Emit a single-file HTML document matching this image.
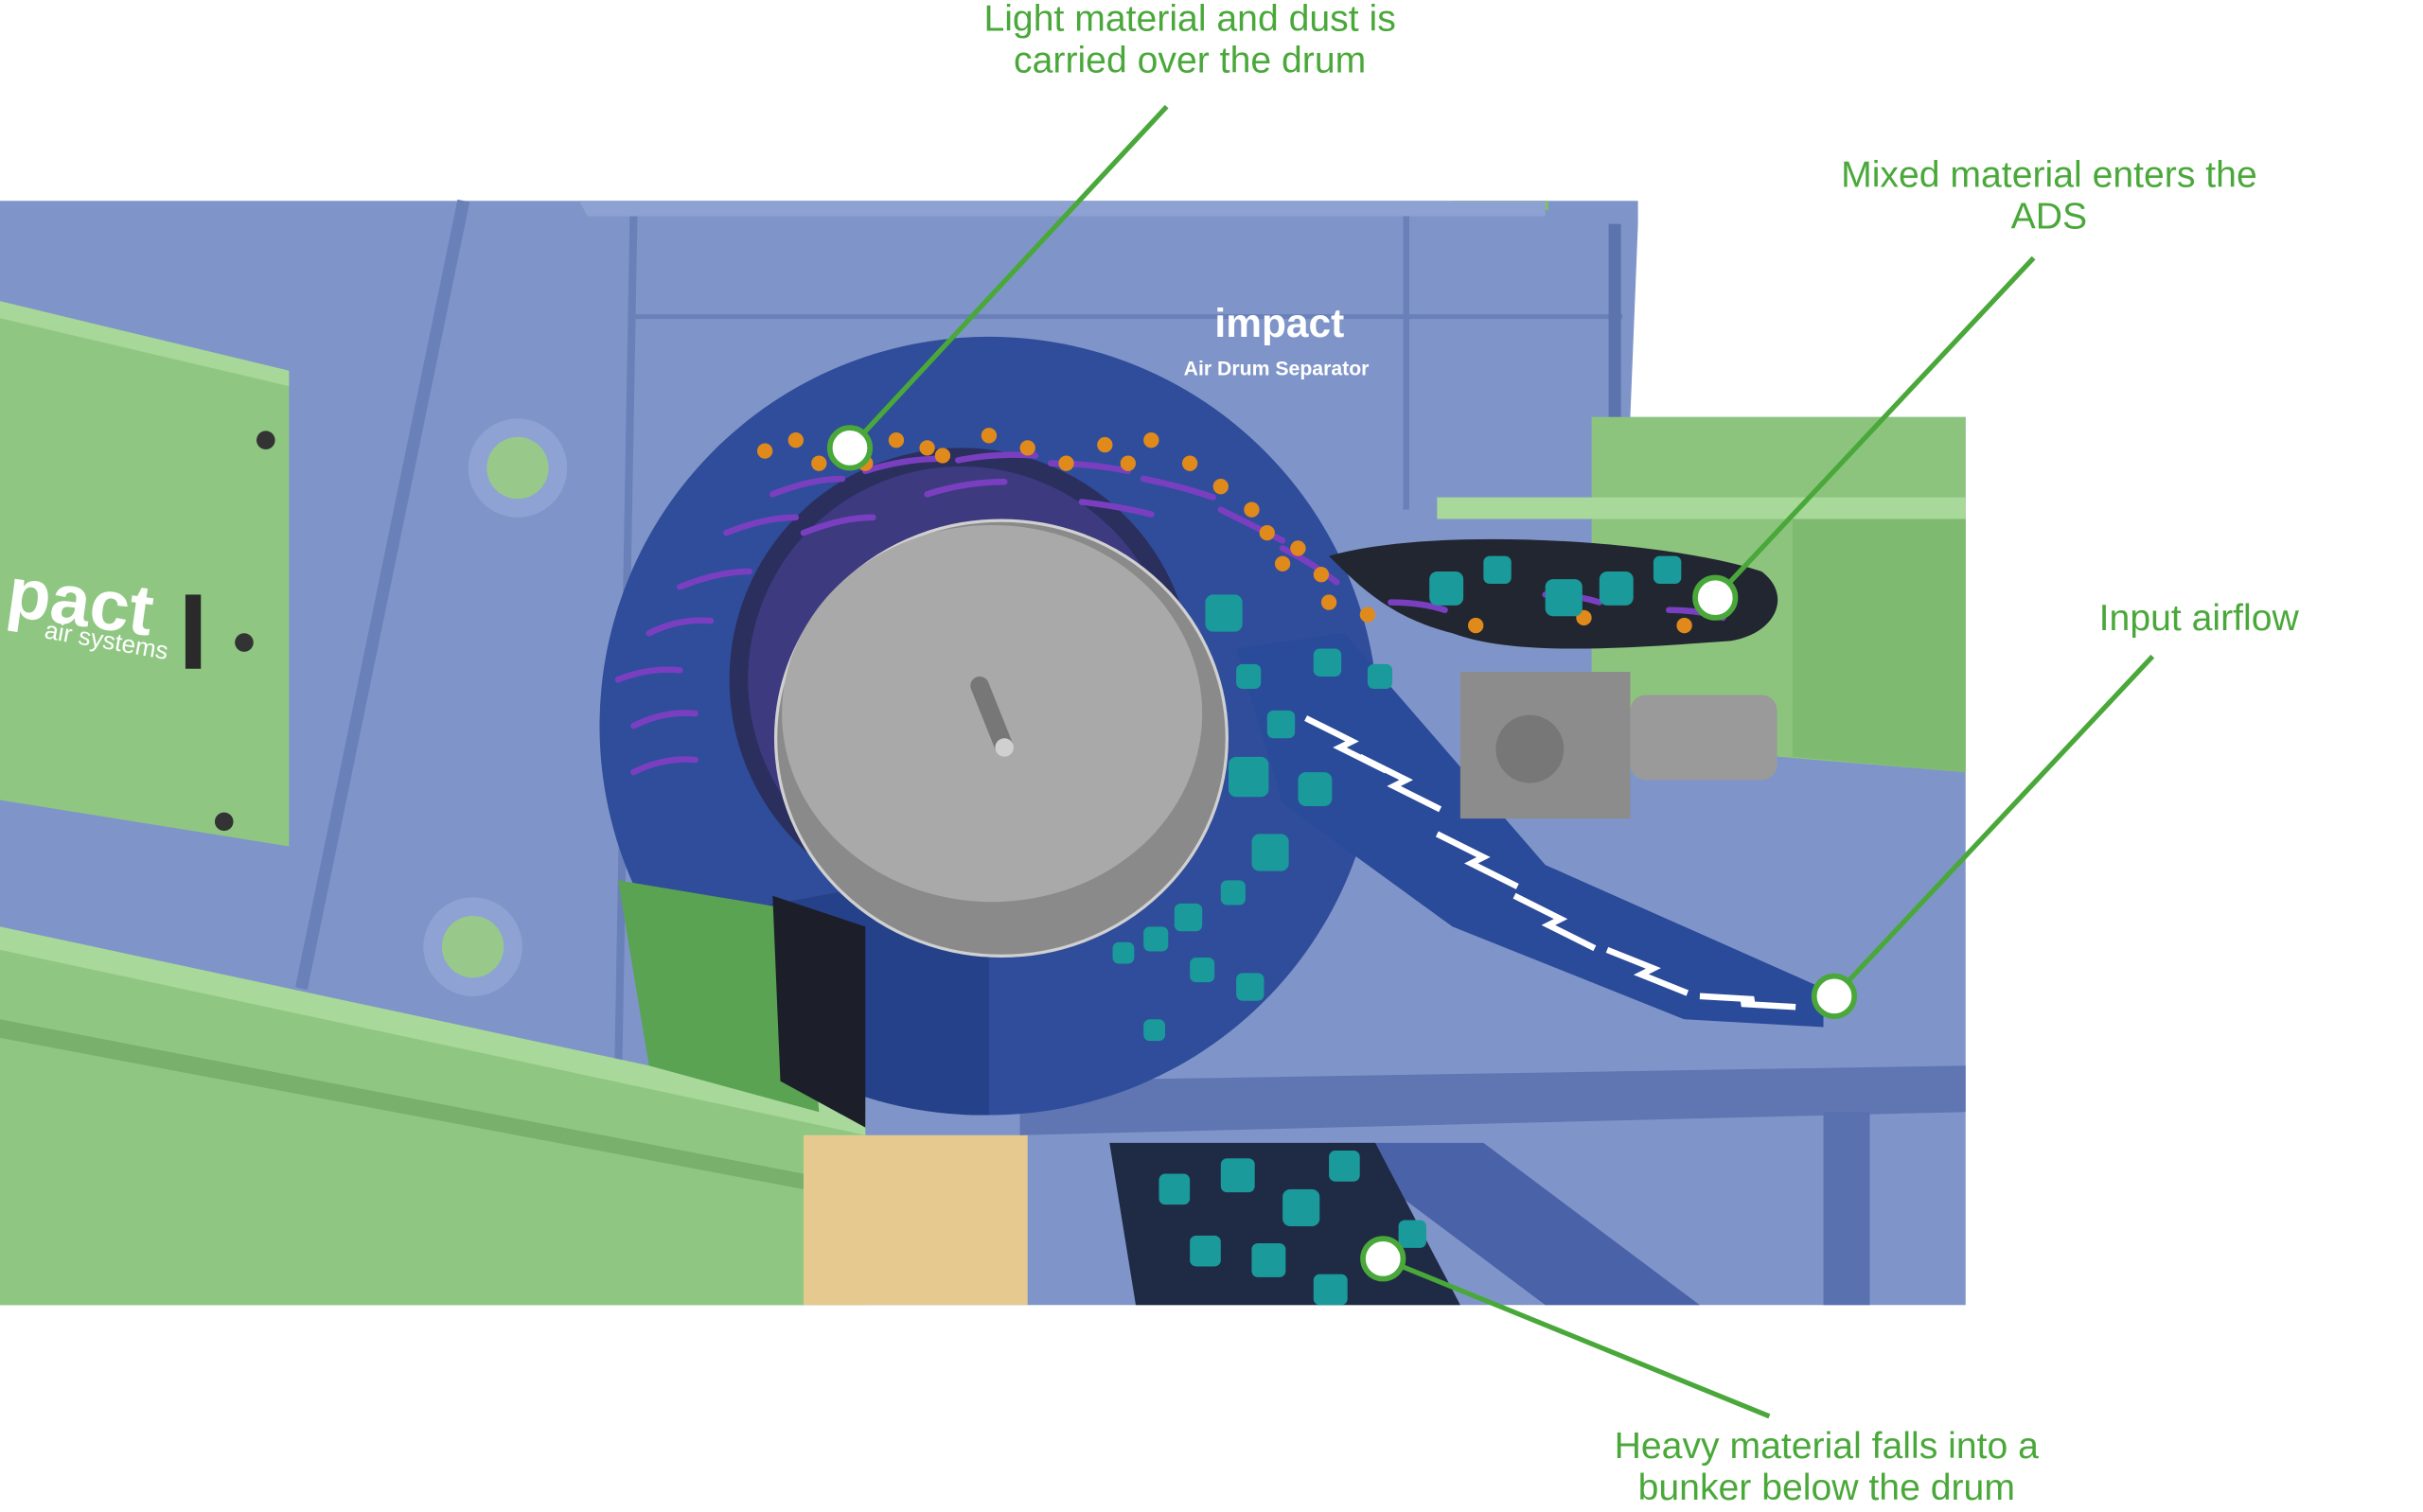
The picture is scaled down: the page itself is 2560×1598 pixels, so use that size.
<!DOCTYPE html>
<html><head><meta charset="utf-8"><style>
html,body{margin:0;padding:0;background:#fff;}
svg{display:block}
text{font-family:"Liberation Sans",sans-serif;fill:#4aa83a;font-size:24px;text-anchor:middle}
</style></head><body>
<svg width="2560" height="1598" viewBox="0 0 1568 979" preserveAspectRatio="none" xmlns="http://www.w3.org/2000/svg">
<rect width="1568" height="979" fill="#fff"/>
<polygon points="0,130 1060,130 1060,145 1055,270 1272,270 1272,845 0,845" fill="#7f95c9"/>
<rect x="940" y="130" width="62" height="6" fill="#7fbf6a"/>
<polygon points="375,130 1000,130 1000,140 380,140" fill="#8da2d2"/>
<line x1="300" y1="130" x2="195" y2="640" stroke="#6a80b8" stroke-width="8"/>
<line x1="410" y1="140" x2="400" y2="700" stroke="#6a80b8" stroke-width="5"/>
<line x1="410" y1="205" x2="1050" y2="205" stroke="#6a80b8" stroke-width="3"/>
<line x1="910" y1="140" x2="910" y2="330" stroke="#6a80b8" stroke-width="4"/>
<line x1="1045" y1="145" x2="1045" y2="270" stroke="#5d73ad" stroke-width="8"/>
<polygon points="0,195 187,240 187,548 0,518" fill="#8fc782"/>
<polygon points="0,195 187,240 187,250 0,206" fill="#a8d79a"/>
<text x="50" y="405" style="fill:#fff;font-size:46px;font-weight:bold" transform="rotate(8 50 405)">pact</text>
<text x="68" y="420" style="fill:#fff;font-size:16px" transform="rotate(10 68 420)">air systems</text>
<circle cx="172" cy="285" r="6" fill="#333"/><circle cx="158" cy="416" r="6" fill="#333"/><circle cx="145" cy="532" r="6" fill="#333"/>
<rect x="120" y="385" width="10" height="48" fill="#2a2a2a"/>
<circle cx="335" cy="303" r="32" fill="#8ea3d3"/><circle cx="335" cy="303" r="20" fill="#98c98b"/>
<circle cx="306" cy="613" r="32" fill="#8ea3d3"/><circle cx="306" cy="613" r="20" fill="#98c98b"/>
<polygon points="0,600 560,720 560,845 0,845" fill="#8fc782"/>
<polygon points="0,600 560,720 560,735 0,615" fill="#a8d89a"/>
<polygon points="0,660 520,760 520,770 0,672" fill="#79b06c"/>
<polygon points="520,735 665,735 665,845 520,845" fill="#e6c98f"/>
<polygon points="1030,270 1272,270 1272,500 1030,480" fill="#8cc47e"/>
<polygon points="930,322 1272,322 1272,336 930,336" fill="#a8d89a"/>
<polygon points="1160,336 1272,336 1272,500 1160,490" fill="#7fba71"/>
<polygon points="660,700 1272,690 1272,720 660,735" fill="#5f76b3"/>
<polygon points="860,740 960,740 1100,845 1000,845" fill="#4a62a8"/>
<rect x="1180" y="720" width="30" height="125" fill="#5a71b0"/>
<polygon points="718,740 890,740 945,845 735,845" fill="#1f2a44"/>
<circle cx="640" cy="470" r="252" fill="#2f4d9a"/>
<path d="M420,600 A252,252 0 0 0 640,722 L640,560 Z" fill="#254189"/>
<polygon points="400,570 520,590 530,720 420,690" fill="#5aa352"/>
<polygon points="500,580 560,600 560,730 505,700" fill="#1c1f2a"/>
<polygon points="800,420 870,410 1000,560 1180,640 1180,665 1090,660 940,600 830,520" fill="#2a4a9a"/>
<circle cx="622" cy="440" r="150" fill="#2a2f5e"/>
<circle cx="622" cy="440" r="138" fill="#3d3a80"/>
<ellipse cx="648" cy="478" rx="146" ry="141" fill="#8a8a8a" stroke="#d0d0d0" stroke-width="2"/>
<ellipse cx="642" cy="462" rx="136" ry="122" fill="#a9a9a9"/>
<line x1="634" y1="444" x2="650" y2="484" stroke="#777" stroke-width="12" stroke-linecap="round"/>
<circle cx="650" cy="484" r="6" fill="#d0d0d0"/>
<path d="M860,360 C930,340 1080,350 1140,370 C1160,385 1150,410 1120,415 C1050,420 980,425 940,410 C900,400 880,380 860,360 Z" fill="#222631"/>
<rect x="945" y="435" width="110" height="95" fill="#8c8c8c"/>
<rect x="1055" y="450" width="95" height="55" rx="10" fill="#9a9a9a"/>
<circle cx="990" cy="485" r="22" fill="#777"/>
<g stroke="#7a3fc0" stroke-width="4" fill="none" stroke-linecap="round">
<path d="M400,440 q20,-8 40,-6"/><path d="M410,470 q20,-10 40,-8"/><path d="M420,410 q20,-10 40,-8"/><path d="M440,380 q25,-10 45,-10"/>
<path d="M470,345 q25,-10 45,-10"/><path d="M500,320 q25,-10 45,-10"/><path d="M560,305 q25,-8 50,-8"/><path d="M620,298 q25,-5 50,-3"/>
<path d="M680,300 q25,0 50,5"/><path d="M740,310 q25,5 45,12"/><path d="M790,330 q20,10 40,20"/><path d="M830,355 q20,10 35,22"/>
<path d="M410,500 q20,-10 40,-8"/><path d="M520,345 q25,-10 45,-10"/><path d="M600,320 q25,-8 50,-8"/><path d="M700,325 q25,3 45,8"/>
<path d="M900,390 q20,0 35,5"/><path d="M1000,385 q20,0 35,5"/><path d="M1080,395 q20,0 35,5"/>
</g>
<g fill="#e08a1c">
<circle cx="495" cy="292" r="5"/><circle cx="515" cy="285" r="5"/><circle cx="530" cy="300" r="5"/><circle cx="580" cy="285" r="5"/><circle cx="610" cy="295" r="5"/>
<circle cx="640" cy="282" r="5"/><circle cx="665" cy="290" r="5"/><circle cx="690" cy="300" r="5"/><circle cx="715" cy="288" r="5"/><circle cx="745" cy="285" r="5"/>
<circle cx="770" cy="300" r="5"/><circle cx="790" cy="315" r="5"/><circle cx="810" cy="330" r="5"/><circle cx="820" cy="345" r="5"/><circle cx="840" cy="355" r="5"/>
<circle cx="855" cy="372" r="5"/><circle cx="860" cy="390" r="5"/><circle cx="885" cy="398" r="5"/><circle cx="955" cy="405" r="5"/><circle cx="1025" cy="400" r="5"/><circle cx="1090" cy="405" r="5"/>
<circle cx="560" cy="300" r="5"/><circle cx="600" cy="290" r="5"/><circle cx="730" cy="300" r="5"/><circle cx="830" cy="365" r="5"/>
</g>
<g fill="#1a9a9a">
<rect x="780" y="385" width="24" height="24" rx="5"/><rect x="800" y="430" width="16" height="16" rx="4"/><rect x="820" y="460" width="18" height="18" rx="4"/>
<rect x="795" y="490" width="26" height="26" rx="5"/><rect x="810" y="540" width="24" height="24" rx="5"/><rect x="790" y="570" width="16" height="16" rx="4"/>
<rect x="760" y="585" width="18" height="18" rx="4"/><rect x="740" y="600" width="16" height="16" rx="4"/><rect x="720" y="610" width="14" height="14" rx="4"/>
<rect x="770" y="620" width="16" height="16" rx="4"/><rect x="800" y="630" width="18" height="18" rx="4"/><rect x="740" y="660" width="14" height="14" rx="4"/>
<rect x="850" y="420" width="18" height="18" rx="4"/><rect x="885" y="430" width="16" height="16" rx="4"/><rect x="840" y="500" width="22" height="22" rx="5"/>
<rect x="925" y="370" width="22" height="22" rx="5"/><rect x="960" y="360" width="18" height="18" rx="4"/><rect x="1000" y="375" width="24" height="24" rx="5"/>
<rect x="1035" y="370" width="22" height="22" rx="5"/><rect x="1070" y="360" width="18" height="18" rx="4"/>
<rect x="750" y="760" width="20" height="20" rx="4"/><rect x="790" y="750" width="22" height="22" rx="4"/><rect x="830" y="770" width="24" height="24" rx="5"/>
<rect x="770" y="800" width="20" height="20" rx="4"/><rect x="810" y="805" width="22" height="22" rx="4"/><rect x="860" y="745" width="20" height="20" rx="4"/>
<rect x="905" y="790" width="18" height="18" rx="4"/><rect x="850" y="825" width="22" height="20" rx="4"/>
</g>
<g stroke="#fff" stroke-width="4" fill="none">
<path d="M845,465 l30,15 l-8,4 l30,15"/><path d="M880,490 l30,15 l-8,4 l30,15"/><path d="M930,540 l30,15 l-8,4 l30,15"/>
<path d="M980,580 l30,15 l-8,4 l30,15"/><path d="M1040,615 l30,12 l-8,4 l30,12"/><path d="M1100,645 l35,2 l-8,3 l35,2"/>
</g>
<text x="828" y="218" style="fill:#fff;font-size:26px;font-weight:bold">impact</text>
<text x="826" y="243" style="fill:#fff;font-size:13px;font-weight:bold">Air Drum Separator</text>
<g stroke="#4aa83a" stroke-width="3.2" fill="none">
<line x1="755" y1="69" x2="550" y2="290"/>
<line x1="1316" y1="167" x2="1110" y2="387"/>
<line x1="1393" y1="425" x2="1187" y2="645"/>
<line x1="1145" y1="917" x2="895" y2="815"/>
</g>
<g fill="#fff" stroke="#4aa83a" stroke-width="3.5">
<circle cx="550" cy="290" r="13"/><circle cx="1110" cy="387" r="13"/><circle cx="1187" cy="645" r="13"/><circle cx="895" cy="815" r="13"/>
</g>
<text x="770" y="20">Light material and dust is</text>
<text x="770" y="47">carried over the drum</text>
<text x="1326" y="121">Mixed material enters the</text>
<text x="1326" y="148">ADS</text>
<text x="1423" y="408">Input airflow</text>
<text x="1182" y="944">Heavy material falls into a</text>
<text x="1182" y="971">bunker below the drum</text>
</svg>
</body></html>
